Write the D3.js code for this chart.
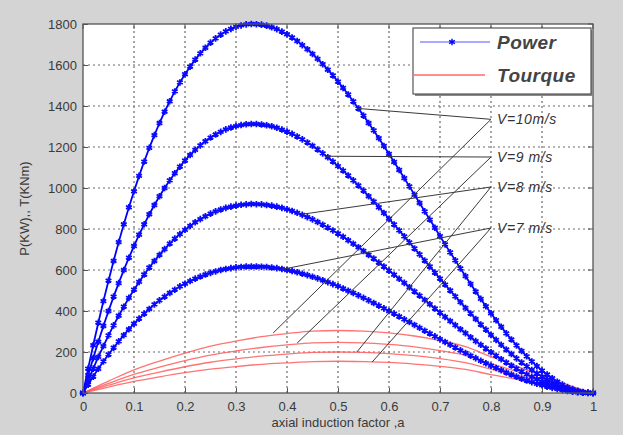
<!DOCTYPE html>
<html><head><meta charset="utf-8">
<script src="https://cdn.jsdelivr.net/npm/d3@7"></script>
<style>
html,body{margin:0;padding:0;background:#d4d4d4;}
svg{display:block;}
</style></head><body>
<svg id="chart" width="623" height="435"></svg>
<script>
// ---------- data ----------
const xTicks = [0,0.1,0.2,0.3,0.4,0.5,0.6,0.7,0.8,0.9,1];
const xTickLabels = ["0","0.1","0.2","0.3","0.4","0.5","0.6","0.7","0.8","0.9","1"];
const yTicks = [0,200,400,600,800,1000,1200,1400,1600,1800];

// axial induction factor samples (step 0.01) for power curves
const powerA = d3.range(0,101).map(i => i/100);
const power10 = [0,119,233,343,448,548,644,736,823,906,
  984,1059,1129,1196,1258,1317,1372,1423,1471,1515,
  1555,1592,1626,1657,1684,1709,1730,1748,1764,1776,
  1786,1793,1798,1800,1799,1797,1792,1784,1775,1763,
  1750,1734,1717,1697,1677,1654,1630,1604,1577,1549,
  1519,1488,1456,1422,1388,1353,1317,1281,1243,1205,
  1166,1127,1088,1048,1008,967,927,886,846,806,
  765,725,686,647,608,570,532,495,459,423,
  389,355,323,291,261,232,205,179,154,131,
  109,90,72,55,41,29,19,11,5,1,0];
const power9 = [0,87,170,250,327,400,470,536,600,660,
  717,772,823,872,917,960,1000,1037,1072,1104,
  1134,1161,1186,1208,1228,1246,1261,1274,1286,1295,
  1302,1307,1311,1312,1312,1310,1306,1301,1294,1285,
  1275,1264,1251,1237,1222,1206,1188,1169,1150,1129,
  1107,1085,1061,1037,1012,987,960,934,906,878,
  850,822,793,764,735,705,676,646,617,587,
  558,529,500,471,443,415,388,361,334,309,
  283,259,235,212,190,169,149,130,112,95,
  80,65,52,40,30,21,14,8,3,1,0];
const power8 = [0,61,119,176,229,281,330,377,421,464,
  504,542,578,612,644,674,702,729,753,775,
  796,815,833,848,862,875,886,895,903,909,
  914,918,920,922,921,920,917,914,909,903,
  896,888,879,869,858,847,834,821,807,793,
  778,762,745,728,711,693,674,656,636,617,
  597,577,557,537,516,495,475,454,433,412,
  392,371,351,331,311,292,272,253,235,217,
  199,182,165,149,134,119,105,91,79,67,
  56,46,37,28,21,15,10,5,2,1,0];
const power7 = [0,41,80,118,154,188,221,252,282,311,
  338,363,387,410,432,452,470,488,504,520,
  533,546,558,568,578,586,593,600,605,609,
  613,615,617,617,617,616,615,612,609,605,
  600,595,589,582,575,567,559,550,541,531,
  521,510,499,488,476,464,452,439,426,413,
  400,387,373,359,346,332,318,304,290,276,
  263,249,235,222,208,195,182,170,157,145,
  133,122,111,100,90,80,70,61,53,45,
  38,31,25,19,14,10,6,4,2,0,0];

// axial induction factor samples (step 0.05) for torque curves
const torqueA = d3.range(0,21).map(i => i/20);
const torque10 = [0,58,113,156,195,229,253,275,290,302,305,302,293,278,256,226,177,131,85,40,0];
const torque9  = [0,47,91,126,158,185,205,222,235,245,247,245,237,225,207,183,143,106,69,32,0];
const torque8  = [0,38,74,102,128,150,166,180,190,198,200,198,192,182,168,148,116,86,56,26,0];
const torque7  = [0,29,57,79,99,116,129,140,147,153,155,153,149,141,130,115,90,67,43,20,0];

const powerSeries = [power10, power9, power8, power7];
const torqueSeries = [torque10, torque9, torque8, torque7];

// annotation labels and the data points their leader lines join
const annLabels = ["V=10m/s","V=9 m/s","V=8 m/s","V=7 m/s"];
const annAnchor = [[0.8,1335],[0.8,1151],[0.8,1005],[0.8,805]];
const annPowerEnd = [[0.54,1388],[0.475,1155],[0.43,872],[0.39,603]];
const annTorqueEnd = [[0.373,293],[0.42,244],[0.537,200],[0.567,151]];

const legendLabels = ["Power","Tourque"];

// ---------- drawing ----------
const W = 623, H = 435;
const m = {left:83, right:30, top:24, bottom:42};
const svg = d3.select("#chart");
svg.append("rect").attr("width",W).attr("height",H).attr("fill","#d4d4d4");

const x = d3.scaleLinear().domain([0,1]).range([m.left, W - m.right]);
const y = d3.scaleLinear().domain([0,1800]).range([H - m.bottom, m.top]);

// plot area
svg.append("rect").attr("x",x(0)).attr("y",y(1800))
  .attr("width",x(1)-x(0)).attr("height",y(0)-y(1800)).attr("fill","#fff");

// grid
const grid = svg.append("g").attr("stroke","#6a6a6a").attr("stroke-width",1.2)
  .attr("stroke-dasharray","2,3");
grid.selectAll("line.v").data(xTicks.slice(1,-1)).join("line")
  .attr("x1",d=>x(d)).attr("x2",d=>x(d)).attr("y1",y(0)).attr("y2",y(1800));
grid.selectAll("line.h").data(yTicks.slice(1,-1)).join("line")
  .attr("y1",d=>y(d)).attr("y2",d=>y(d)).attr("x1",x(0)).attr("x2",x(1));

// torque curves
const torqueLine = d3.line().x((d,i)=>x(torqueA[i])).y(d=>y(d)).curve(d3.curveMonotoneX);
svg.append("g").selectAll("path").data(torqueSeries).join("path")
  .attr("d",torqueLine).attr("fill","none").attr("stroke","#ff5a5a")
  .attr("stroke-width",1.3).attr("stroke-opacity",0.85);

// power curves
const powerLine = d3.line().x((d,i)=>x(powerA[i])).y(d=>y(d));
const symType = d3.symbolAsterisk || d3.symbolCross;
const sym = d3.symbol().type(symType).size(30);
const pg = svg.append("g");
powerSeries.forEach(s => {
  pg.append("path").attr("d",powerLine(s)).attr("fill","none")
    .attr("stroke","#0000ff").attr("stroke-width",1.8);
  pg.append("g").selectAll("path").data(s).join("path")
    .attr("transform",(d,i)=>`translate(${x(powerA[i])},${y(d)})`)
    .attr("d",sym).attr("fill","none").attr("stroke","#0a0aff").attr("stroke-width",1.8);
});

// annotation leader lines
const ag = svg.append("g").attr("stroke","#3a3a3a").attr("stroke-width",1);
annLabels.forEach((lab,i) => {
  const [ax,ay] = annAnchor[i];
  [annPowerEnd[i], annTorqueEnd[i]].forEach(([ex,ey]) => {
    ag.append("line").attr("x1",x(ax)).attr("y1",y(ay)).attr("x2",x(ex)).attr("y2",y(ey));
  });
  svg.append("text").attr("x",x(ax)+6).attr("y",y(ay)+5)
    .attr("font-family","Liberation Sans, Arial, sans-serif").attr("font-style","italic")
    .attr("font-size",14).attr("letter-spacing",0.6).attr("fill","#333").text(lab);
});

// axes (MATLAB style, ticks inside)
const fontFam = "Liberation Sans, Arial, sans-serif";
const xAxis = svg.append("g").attr("transform",`translate(0,${y(0)})`)
  .call(d3.axisBottom(x).tickValues(xTicks).tickFormat((d,i)=>xTickLabels[i]).tickSize(-5).tickPadding(9));
const yAxis = svg.append("g").attr("transform",`translate(${x(0)},0)`)
  .call(d3.axisLeft(y).tickValues(yTicks).tickFormat(d3.format("d")).tickSize(-5).tickPadding(6));
[xAxis,yAxis].forEach(a => {
  a.select(".domain").remove();
  a.selectAll(".tick line").attr("stroke","#555");
  a.selectAll("text").attr("font-family",fontFam).attr("font-size",13).attr("fill","#3a3a3a");
});
// top / right ticks
svg.append("g").selectAll("line").data(xTicks).join("line")
  .attr("x1",d=>x(d)).attr("x2",d=>x(d)).attr("y1",y(1800)).attr("y2",y(1800)+5).attr("stroke","#555");
svg.append("g").selectAll("line").data(yTicks).join("line")
  .attr("y1",d=>y(d)).attr("y2",d=>y(d)).attr("x1",x(1)).attr("x2",x(1)-5).attr("stroke","#555");

// box
svg.append("rect").attr("x",x(0)).attr("y",y(1800))
  .attr("width",x(1)-x(0)).attr("height",y(0)-y(1800))
  .attr("fill","none").attr("stroke","#555").attr("stroke-width",1.3);

// axis labels
svg.append("text").attr("x",(x(0)+x(1))/2).attr("y",427).attr("text-anchor","middle")
  .attr("font-family",fontFam).attr("font-size",13).attr("fill","#3a3a3a")
  .text("axial induction factor ,a");
svg.append("text").attr("transform",`translate(29,${(y(0)+y(1800))/2}) rotate(-90)`)
  .attr("text-anchor","middle").attr("font-family",fontFam).attr("font-size",13).attr("fill","#3a3a3a")
  .text("P(KW),, T(KNm)");

// legend
const lg = svg.append("g");
const lx = 413, ly = 28, lw = 178, lh = 66;
lg.append("rect").attr("x",lx+2).attr("y",ly+2).attr("width",lw).attr("height",lh).attr("fill","#888");
lg.append("rect").attr("x",lx).attr("y",ly).attr("width",lw).attr("height",lh)
  .attr("fill","#fff").attr("stroke","#555").attr("stroke-width",1.2);
lg.append("line").attr("x1",lx+7).attr("x2",lx+77).attr("y1",ly+14).attr("y2",ly+14)
  .attr("stroke","#5555ff").attr("stroke-width",1);
lg.append("path").attr("transform",`translate(${lx+39},${ly+14})`).attr("d",sym)
  .attr("fill","none").attr("stroke","#0000ff").attr("stroke-width",1.4);
lg.append("line").attr("x1",lx+1).attr("x2",lx+72).attr("y1",ly+47).attr("y2",ly+47)
  .attr("stroke","#ff6a6a").attr("stroke-width",1.3);
legendLabels.forEach((t,i) => {
  lg.append("text").attr("x",lx+84).attr("y",ly+21+i*33)
    .attr("font-family",fontFam).attr("font-style","italic").attr("font-weight","bold")
    .attr("font-size",19).attr("letter-spacing",0.5).attr("fill","#444").text(t);
});
</script>
</body></html>
